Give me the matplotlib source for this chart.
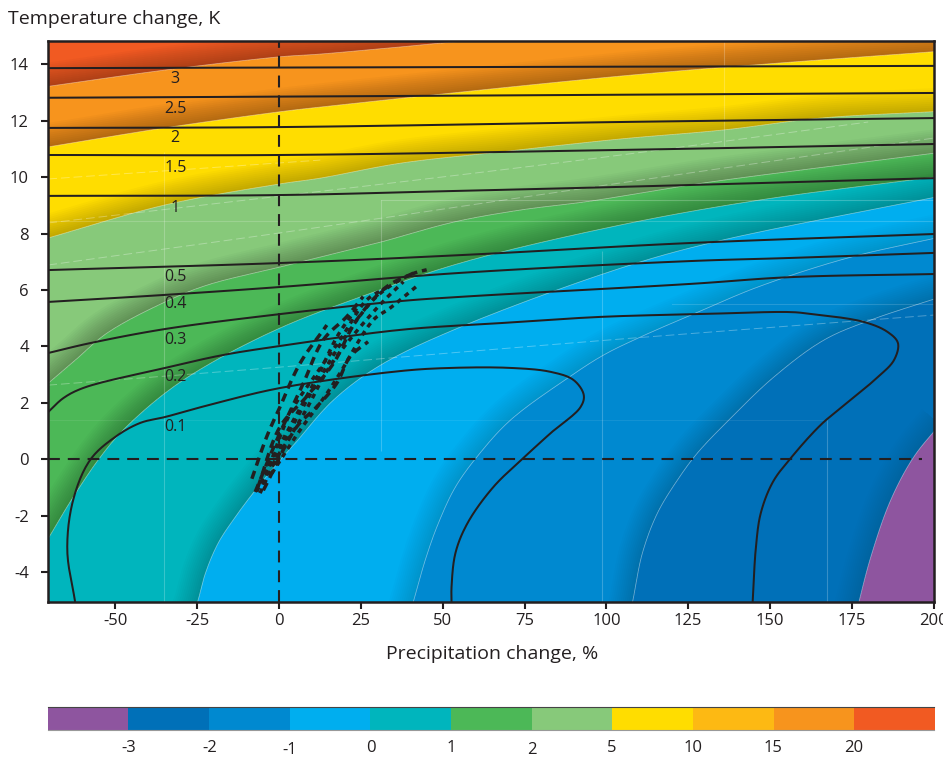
import numpy as np
import matplotlib
matplotlib.use("Agg")
import matplotlib.pyplot as plt
from matplotlib.patches import Polygon
from matplotlib.colors import ListedColormap

plt.rcParams['font.family'] = ['Open Sans', 'DejaVu Sans']
plt.rcParams['axes.unicode_minus'] = False
INK = '#231F20'

# --- colour scale -----------------------------------------------------------
scale_colors = ['#8E559F', '#0070B8', '#0089D0', '#00AEEF', '#00B5BD', '#4CB857',
                '#87C97A', '#FFDD00', '#FDB913', '#F7941D', '#F15A22']
scale_labels = ['-3', '-2', '-1', '0', '1', '2', '5', '10', '15', '20']

x_ticks = [-50, -25, 0, 25, 50, 75, 100, 125, 150, 175, 200]
y_ticks = [-4, -2, 0, 2, 4, 6, 8, 10, 12, 14]

# --- filled-band boundaries (precipitation %, temperature K) --------------------
b_red_P = [-72, -35, 0, 12.6, 35, 61.6, 130, 202]
b_red_T = [13.2, 13.8, 14.27, 14.37, 14.6, 14.87, 15.2, 15.6]
b_orange_P = [-72, -35, 0, 12.6, 104.4, 149.3, 202]
b_orange_T = [11.05, 11.75, 12.32, 12.49, 13.59, 14.02, 14.47]
b_yellow_P = [-72, -34.8, 0, 12.6, 37.1, 67.7, 104.4, 135.9, 165.5, 202]
b_yellow_T = [7.8, 9.02, 9.76, 9.97, 10.5, 10.9, 11.36, 11.68, 12.1, 12.34]
b_lgreen_P = [-72, -62.9, -52.5, -34.8, -21.9, 0.4, 12.6, 31, 53.3, 73.8, 94.3, 110.5, 129.8, 202]
b_lgreen_T = [2.55, 3.45, 4.48, 5.58, 6.18, 6.82, 7.17, 7.7, 8.41, 8.84, 9.14, 9.44, 9.8, 10.88]
b_green_P = [-72, -62.9, -54.6, -47.6, -34.8, -21.9, 0.4, 24.9, 55.4, 104.4, 147.2, 202]
b_green_T = [-3.1, -1.34, 0.08, 1.04, 2.35, 3.34, 4.66, 5.76, 6.96, 8.31, 9.2, 10.03]
b_teal_P = [-26.6, -24.9, -22.5, -18.6, -13.4, -7.2, 0.4, 5, 16.6, 31, 55.4, 104.4, 132.8, 202]
b_teal_T = [-5.6, -5.06, -4.04, -2.97, -2.05, -1.09, -0.02, 0.58, 2.1, 3.34, 4.69, 6.78, 7.7, 9.33]
b_lblue_P = [39.5, 41, 44.7, 48.7, 53.9, 60.9, 70.7, 88.2, 99.2, 110.5, 128.8, 146.3, 173.8, 202]
b_lblue_T = [-5.6, -5.06, -3.56, -2.26, -0.98, 0.15, 1.39, 2.88, 3.7, 4.34, 5.26, 6.11, 7.14, 7.88]
b_mblue_P = [106.8, 108, 111, 115.6, 121.7, 127.8, 137.4, 151.2, 166.5, 180.8, 202]
b_mblue_T = [-5.6, -5.06, -3.33, -1.91, -0.74, 0.22, 1.39, 2.92, 4.23, 4.94, 5.75]
b_dblue_P = [176, 180.8, 186.9, 193.9, 202]
b_dblue_T = [-5.6, -3.46, -1.44, 0.08, 1.25]

# --- black contour lines ----------------------------------------------------
c3_P = [-70.5, 200.5];                    c3_T = [13.87, 13.95]
c25_P = [-70.5, 0, 200.5];                c25_T = [12.82, 12.86, 12.99]
c2_P = [-70.5, 0, 104.4, 200.5];          c2_T = [11.75, 11.78, 11.96, 12.1]
c15_P = [-70.5, 0, 104.4, 200.5];         c15_T = [10.79, 10.79, 10.97, 11.18]
c1_P = [-70.5, 0, 52, 104.4, 200.5];      c1_T = [9.34, 9.37, 9.51, 9.66, 9.97]
c05_P = [-70.5, 0.4, 55.4, 125.8, 200.5]; c05_T = [6.71, 6.96, 7.24, 7.67, 7.99]
c04_P = [-70.5, -34.8, 0.4, 55.4, 125.8, 156.4, 200.5]
c04_T = [5.58, 5.83, 6.11, 6.61, 7.03, 7.14, 7.32]
c03_P = [-70.5, -57.7, -34.8, 0.4, 37.1, 55.4, 125.8, 156.4, 200.5]
c03_T = [3.77, 4.12, 4.62, 5.15, 5.61, 5.76, 6.22, 6.46, 6.57]
c02_P = [-70.5, -65.9, -59.8, -34.8, -17, 0.4, 37.1, 67.7, 98.3, 128.8, 156.4, 162,
         178.7, 186, 189.1, 187.9, 183, 173.8, 165.5, 156.4, 150.9, 147.2, 145.7, 144.7]
c02_T = [1.68, 2.17, 2.53, 3.24, 3.7, 4.02, 4.59, 4.83, 5.05, 5.15, 5.22, 5.16,
         4.87, 4.51, 4.12, 3.52, 2.92, 2.03, 1.22, 0.05, -0.8, -1.9, -3.11, -5.06]
c01_P = [-62.3, -64.7, -62.9, -57.7, -50.1, -42.4, -34.8, -21.9, 0.4, 37.1, 52.4, 70.8,
         83, 90, 93.1, 92.1, 83, 74.7, 65.5, 57.6, 53.9, 52.7, 52.7]
c01_T = [-5.06, -3.22, -1.44, -0.02, 0.79, 1.29, 1.5, 1.91, 2.53, 3.13, 3.24, 3.24,
         3.1, 2.81, 2.28, 1.85, 0.93, 0.05, -0.98, -2.26, -3.32, -4.53, -5.06]

contour_names = ['3', '2.5', '2', '1.5', '1', '0.5', '0.4', '0.3', '0.2', '0.1']
contour_label_P = -31.7
contour_label_T = [13.48, 12.42, 11.39, 10.33, 8.91, 6.46, 5.5, 4.23, 2.92, 1.15]

# --- scenario trajectories ----------------------------------------------------
s1_P = [-8.3, -3.8, 0.3, 6.4, 14.6];                  s1_T = [-0.69, 0.79, 1.86, 3.4, 4.76]
s2_P = [-7.3, -0.7, 7.4, 13.5, 20.7, 25.7];           s2_T = [-1.16, 0.68, 2.69, 4.23, 5.06, 5.77]
s3_P = [-5.8, 2.3, 11.5, 19.6, 29.8, 40, 46];         s3_T = [-1.2, 0.79, 2.69, 4.23, 5.77, 6.54, 6.75]
s4_P = [-4.8, 5.4, 11.5, 17.6, 21.7, 27.2];           s4_T = [-1.1, 1.15, 1.86, 2.69, 3.64, 4.17]
s5_P = [-2.2, 6.4, 14.6, 18.6, 28.8, 33.9, 42.5];     s5_T = [-0.5, 1.03, 2.33, 3.05, 4.94, 5.36, 6.18]
s6_P = [-6.5, 0.3, 8.4, 16.6, 23.7, 32.9, 41];        s6_T = [-1.0, 1.15, 2.22, 3.4, 4.94, 6.12, 6.6]
s7_P = [-5, 3.4, 11.5, 19, 26.8, 33];                 s7_T = [-0.9, 1.63, 3.05, 4.3, 5.65, 6.1]
s8_P = [-2, 8, 15, 22, 31, 38];                       s8_T = [-0.2, 1.7, 3.2, 4.3, 5.5, 6.3]
s9_P = [-6.8, -3, 4, 12, 18, 24];                     s9_T = [-1.15, -0.2, 1.3, 3.0, 4.4, 5.4]

# --- faint mesh seams ---------------------------------------------------------
seam_curves = [
    ([-70.5, 0.4, 55.4, 108.3, 200.7], [2.63, 3.27, 3.8, 4.3, 5.12]),
    ([-70.5, 0.4, 104.4, 200], [6.89, 8.03, 9.8, 11.39]),
    ([-70.5, 12.6, 67.7, 104.4, 180], [8.38, 9.5, 10.26, 10.79, 11.96]),
    ([-70.5, 12.6], [9.94, 10.61]),
]
seam_vert_P = [-35, 31, 98.6, 167.3, 135.8]
seam_vert_T0 = [-5.06, 0.3, -5.06, -5.06, 11.1]
seam_vert_T1 = [10.9, 9.2, 7.4, 1.4, 14.85]
seam_horiz_T = [1.39, 5.5, 9.2, 8.45]
seam_horiz_P0 = [-70.5, 120, 31, -70.5]
seam_horiz_P1 = [167.3, 200.5, 200.5, 200.5]
seam_horiz_alpha = [0.08, 0.15, 0.22, 0.18]

XMIN, XMAX, YMIN, YMAX = -70.5, 200.2, -5.06, 14.85
W, H = 943, 758


def smooth(P, T, n=14):
    """Centripetal Catmull-Rom through the read points, in screen-like units."""
    pts = np.column_stack([np.asarray(P, float) * 3.27, np.asarray(T, float) * 28.2])
    if len(pts) < 3:
        return np.asarray(P, float), np.asarray(T, float)
    pts = np.vstack([2 * pts[0] - pts[1], pts, 2 * pts[-1] - pts[-2]])
    out = []
    for i in range(1, len(pts) - 2):
        p0, p1, p2, p3 = pts[i - 1], pts[i], pts[i + 1], pts[i + 2]
        t0 = 0.0
        t1 = t0 + np.linalg.norm(p1 - p0) ** 0.5
        t2 = t1 + np.linalg.norm(p2 - p1) ** 0.5
        t3 = t2 + np.linalg.norm(p3 - p2) ** 0.5
        for t in np.linspace(t1, t2, n, endpoint=False):
            a1 = (t1 - t) / (t1 - t0) * p0 + (t - t0) / (t1 - t0) * p1
            a2 = (t2 - t) / (t2 - t1) * p1 + (t - t1) / (t2 - t1) * p2
            a3 = (t3 - t) / (t3 - t2) * p2 + (t - t2) / (t3 - t2) * p3
            b1 = (t2 - t) / (t2 - t0) * a1 + (t - t0) / (t2 - t0) * a2
            b2 = (t3 - t) / (t3 - t1) * a2 + (t - t1) / (t3 - t1) * a3
            out.append((t2 - t) / (t2 - t1) * b1 + (t - t1) / (t2 - t1) * b2)
    out.append(pts[-2])
    out = np.array(out)
    return out[:, 0] / 3.27, out[:, 1] / 28.2


fig = plt.figure(figsize=(W / 100, H / 100), dpi=100)
ax = fig.add_axes([48.3 / W, 1 - 602 / H, (934.3 - 48.3) / W, (602 - 40.5) / H])
ax.set_xlim(XMIN, XMAX)
ax.set_ylim(YMIN, YMAX)
ax.set_facecolor(scale_colors[-1])

boundaries = [
    (b_red_P, b_red_T, scale_colors[9], 1.2),
    (b_orange_P, b_orange_T, scale_colors[7], 1.2),
    (b_yellow_P, b_yellow_T, scale_colors[6], 1.1),
    (b_lgreen_P, b_lgreen_T, scale_colors[5], 1.25),
    (b_green_P, b_green_T, scale_colors[4], 1.0),
    (b_teal_P, b_teal_T, scale_colors[3], 0.95),
    (b_lblue_P, b_lblue_T, scale_colors[2], 0.65),
    (b_mblue_P, b_mblue_T, scale_colors[1], 0.6),
    (b_dblue_P, b_dblue_T, scale_colors[0], 0.5),
]

# filled bands, back to front: each covers everything below/right of its boundary
curves = []
for P, T, col, strength in boundaries:
    sp, st = smooth(P, T)
    curves.append((sp, st, strength))
    poly = np.column_stack([np.r_[sp, 210, sp[0]], np.r_[st, -8, -8]])
    ax.add_patch(Polygon(poly, closed=True, fc=col, ec='none', zorder=1))

# dark soft shading on the upper side of each boundary
shade_widths = np.linspace(3, 34, 12)
for sp, st, strength in curves:
    clip_xy = np.column_stack([np.r_[sp, 215, -80, -80], np.r_[st, 20, 20, st[0]]])
    clip = Polygon(clip_xy, closed=True, transform=ax.transData, fc='none', ec='none')
    ax.add_patch(clip)
    for w in shade_widths:
        ln, = ax.plot(sp, st, color='black', alpha=0.018 * strength, lw=w, zorder=2,
                      solid_capstyle='butt', solid_joinstyle='round')
        ln.set_clip_path(clip)
    ax.plot(sp, st, color='white', alpha=0.45, lw=0.55, zorder=2.5)

# faint seams of the original gradient mesh
for P, T in seam_curves:
    ax.plot(*smooth(P, T), color='white', alpha=0.3, lw=0.7, ls=(0, (9, 4)), zorder=3)
ax.vlines(seam_vert_P, seam_vert_T0, seam_vert_T1, color='white', alpha=0.22, lw=0.8, zorder=3)
for ty, p0, p1, a in zip(seam_horiz_T, seam_horiz_P0, seam_horiz_P1, seam_horiz_alpha):
    ax.plot([p0, p1], [ty, ty], color='white', alpha=a, lw=0.8, zorder=3)

# contour lines
contours = [(c3_P, c3_T), (c25_P, c25_T), (c2_P, c2_T), (c15_P, c15_T), (c1_P, c1_T),
            (c05_P, c05_T), (c04_P, c04_T), (c03_P, c03_T), (c02_P, c02_T), (c01_P, c01_T)]
for P, T in contours:
    ax.plot(*smooth(P, T), color=INK, lw=1.45, zorder=4, solid_capstyle='butt')
for name, ty in zip(contour_names, contour_label_T):
    ax.text(contour_label_P, ty, name, fontsize=11.5, color=INK, ha='center', va='center', zorder=6)

# reference axes through the origin
ax.axhline(0, xmax=(196.5 - XMIN) / (XMAX - XMIN), color=INK, lw=1.5, ls=(0, (5.7, 3.8)), zorder=5)
ax.axvline(0, color=INK, lw=1.5, ls=(0, (5.7, 3.8)), zorder=5)

# scenario trajectories
long_dash = (0, (2.4, 1.6))
short_dash = (0, (1.4, 1.4))
for P, T, style in [(s1_P, s1_T, long_dash), (s2_P, s2_T, long_dash), (s3_P, s3_T, short_dash),
                    (s4_P, s4_T, long_dash), (s5_P, s5_T, short_dash), (s6_P, s6_T, long_dash),
                    (s7_P, s7_T, short_dash), (s8_P, s8_T, short_dash), (s9_P, s9_T, short_dash)]:
    ax.plot(*smooth(P, T), color=INK, lw=2.5, ls=style, zorder=5, dash_capstyle='butt')

ax.set_xticks(x_ticks)
ax.set_yticks(y_ticks)
ax.tick_params(axis='both', length=5, width=1.5, color=INK, labelcolor=INK, labelsize=12)
ax.tick_params(axis='y', pad=9)
ax.tick_params(axis='x', pad=3)
for s in ax.spines.values():
    s.set_linewidth(1.8)
    s.set_color(INK)
    s.set_zorder(10)

fig.text(8 / W, 1 - 19 / H, 'Temperature change, K', fontsize=14, color=INK, ha='left', va='center')
fig.text(492 / W, 1 - 654 / H, 'Precipitation change, %', fontsize=14, color=INK, ha='center', va='center')

# colour scale bar
cax = fig.add_axes([48.3 / W, 1 - 730 / H, (934.3 - 48.3) / W, (730 - 707) / H])
n = len(scale_colors)
cax.imshow([np.arange(n)], cmap=ListedColormap(scale_colors), aspect='auto',
           extent=(0, n, 0, 1), interpolation='nearest')
cax.set_yticks([])
cax.set_xticks(range(1, n), labels=scale_labels)
cax.tick_params(axis='x', length=0, pad=7.5, labelsize=12, labelcolor=INK)
ticks = cax.xaxis.get_major_ticks()
for i in (2, 5):
    ticks[i].set_pad(9)
for name, s in cax.spines.items():
    s.set_visible(name in ('top', 'bottom'))
    s.set_linewidth(0.8)
cax.spines['top'].set_color('#444444')
cax.spines['bottom'].set_color('#999999')

fig.savefig('out.png', dpi=100)
